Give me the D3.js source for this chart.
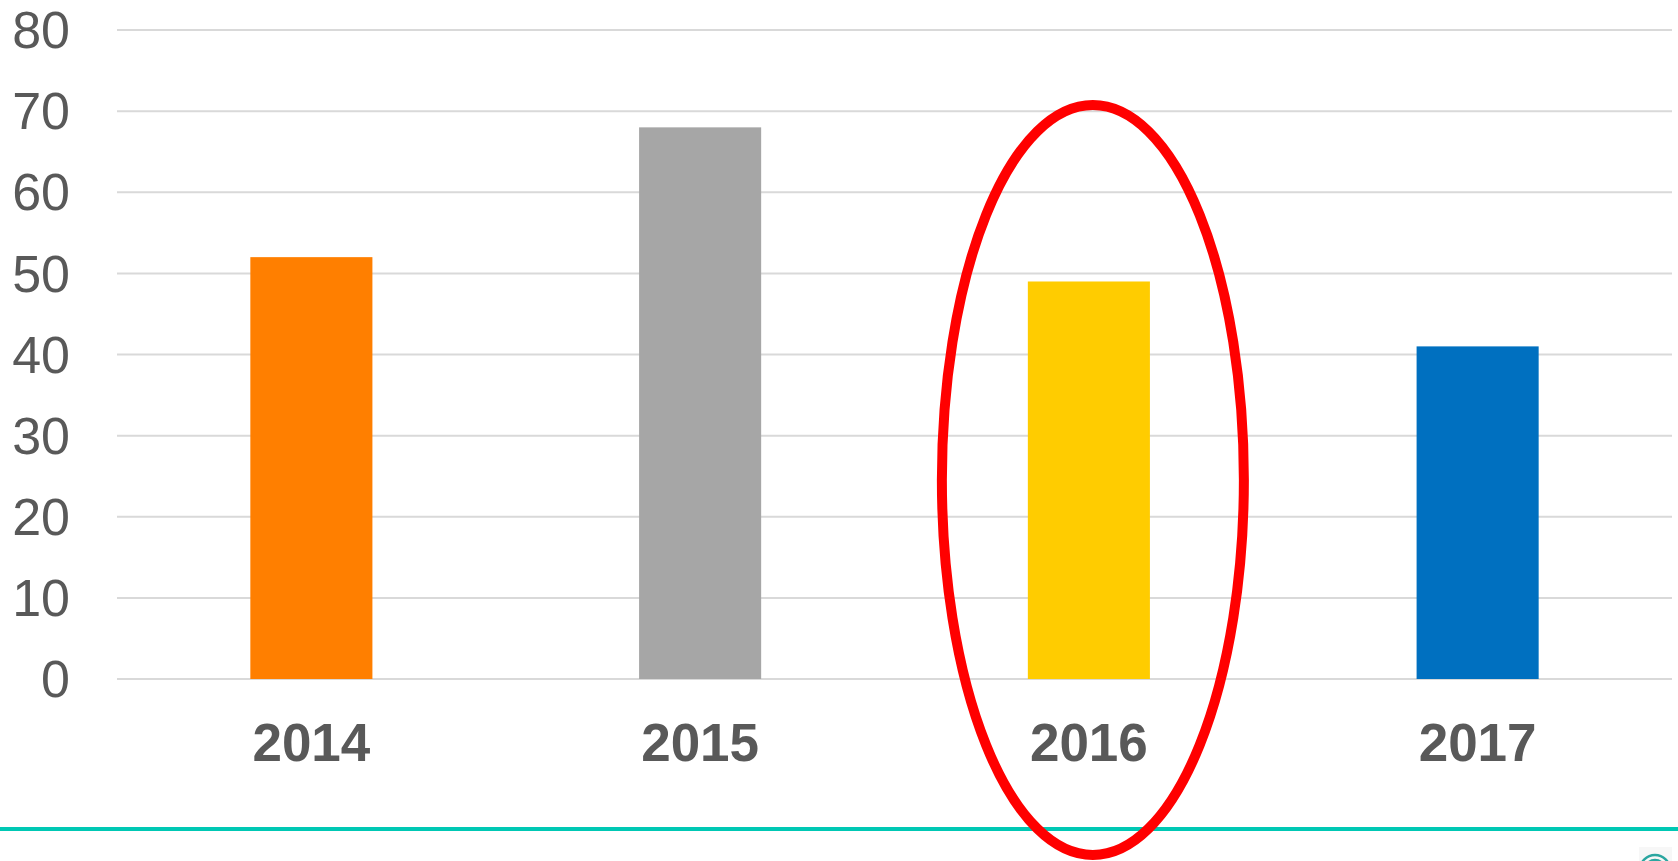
<!DOCTYPE html>
<html>
<head>
<meta charset="utf-8">
<script src="https://cdn.jsdelivr.net/npm/d3@7"></script>
<style>
  html, body { margin: 0; padding: 0; background: #fff; overflow: hidden; }
  svg { display: block; font-family: "Liberation Sans", Arial, sans-serif; }
</style>
</head>
<body>
<div id="chart"></div>
<script>
const years = ['2014', '2015', '2016', '2017'];
const values = [52, 68, 49, 41];
const barColors = ['#ff7f00', '#a6a6a6', '#ffcc00', '#0070c0'];
const yTicks = [0, 10, 20, 30, 40, 50, 60, 70, 80];
const highlighted = '2016';

const width = 1678;
const height = 861;
const margin = {top: 30, right: 6, bottom: 182, left: 117};
const labelColor = '#595959';

const svg = d3.select('#chart').append('svg')
  .attr('width', width)
  .attr('height', height);

const x = d3.scaleBand()
  .domain(years)
  .range([margin.left, width - margin.right])
  .paddingInner(0.686)
  .paddingOuter(0.343);

const y = d3.scaleLinear()
  .domain([0, 80])
  .range([height - margin.bottom, margin.top]);

// gridlines
svg.append('g')
  .selectAll('line')
  .data(yTicks)
  .join('line')
    .attr('x1', margin.left)
    .attr('x2', width - margin.right)
    .attr('y1', d => y(d))
    .attr('y2', d => y(d))
    .attr('stroke', '#d9d9d9')
    .attr('stroke-width', 2);

// y tick labels
svg.append('g')
  .selectAll('text')
  .data(yTicks)
  .join('text')
    .attr('x', 70)
    .attr('y', d => y(d))
    .attr('dy', '0.35em')
    .attr('text-anchor', 'end')
    .attr('font-size', 52)
    .attr('fill', labelColor)
    .text(d => d);

// bars
svg.append('g')
  .selectAll('rect')
  .data(years)
  .join('rect')
    .attr('x', d => x(d))
    .attr('y', (d, i) => y(values[i]))
    .attr('width', x.bandwidth())
    .attr('height', (d, i) => y(0) - y(values[i]))
    .attr('fill', (d, i) => barColors[i]);

// category labels
svg.append('g')
  .selectAll('text')
  .data(years)
  .join('text')
    .attr('x', d => x(d) + x.bandwidth() / 2)
    .attr('y', 761)
    .attr('text-anchor', 'middle')
    .attr('font-size', 53)
    .attr('font-weight', 'bold')
    .attr('fill', labelColor)
    .text(d => d);

// teal footer rule
svg.append('rect')
  .attr('x', 0)
  .attr('y', 827)
  .attr('width', width)
  .attr('height', 4)
  .attr('fill', '#00c8b4');

// small logo, cut by the bottom edge
const logo = svg.append('g').attr('transform', 'translate(1655,870)');
logo.append('rect')
  .attr('x', -16).attr('y', -23).attr('width', 33).attr('height', 30)
  .attr('fill', '#f7f7f7');
[15, 10, 5].forEach(r => {
  logo.append('circle')
    .attr('r', r)
    .attr('fill', 'none')
    .attr('stroke', '#2aa6a0')
    .attr('stroke-width', 2.5);
});

// red ellipse round the highlighted year
svg.append('ellipse')
  .attr('cx', x(highlighted) + x.bandwidth() / 2 + 4)
  .attr('cy', 480)
  .attr('rx', 151)
  .attr('ry', 375)
  .attr('fill', 'none')
  .attr('stroke', '#ff0000')
  .attr('stroke-width', 10);
</script>
</body>
</html>
